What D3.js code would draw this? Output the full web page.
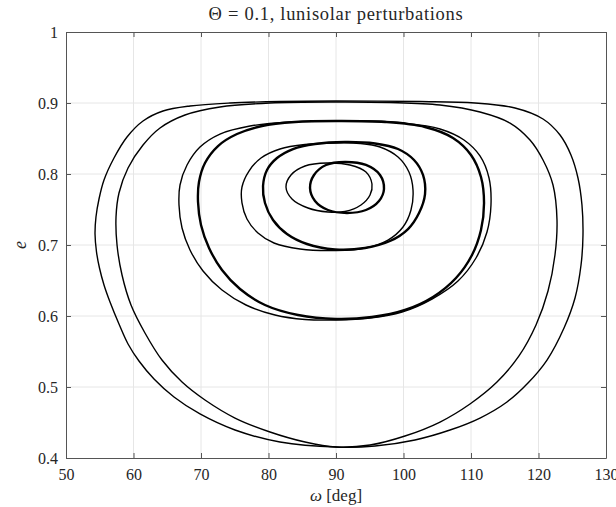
<!DOCTYPE html>
<html>
<head>
<meta charset="utf-8">
<style>
  body { margin: 0; background: #fff; }
  text { font-family: "Liberation Serif", "DejaVu Serif", serif; fill: #262626; }
</style>
</head>
<body>
<div id="chart"></div>
<script src="https://d3js.org/d3.v7.min.js"></script>
<script>
  // tick values
  const xTicks = [50, 60, 70, 80, 90, 100, 110, 120, 130];
  const yTicks = [0.4, 0.5, 0.6, 0.7, 0.8, 0.9, 1];

  // loops, [omega (deg), e]
  const loopA = [
    [90.00, 0.9028], [81.70, 0.9021], [74.30, 0.9000], [68.37, 0.8958], [64.37, 0.8887],
    [61.41, 0.8746], [59.04, 0.8521], [57.11, 0.8225], [55.63, 0.7915], [54.89, 0.7648],
    [54.44, 0.7394], [54.30, 0.7155], [54.52, 0.6901], [54.96, 0.6676], [55.63, 0.6437],
    [56.52, 0.6197], [57.85, 0.5887], [59.19, 0.5606], [60.81, 0.5366], [63.04, 0.5113],
    [66.00, 0.4859], [69.85, 0.4620], [75.04, 0.4394], [81.70, 0.4225], [90.00, 0.4155],
    [95.78, 0.4169], [101.70, 0.4254], [106.89, 0.4394], [111.33, 0.4563], [115.33, 0.4789],
    [118.44, 0.5056], [121.26, 0.5380], [123.78, 0.5831], [125.41, 0.6254], [126.30, 0.6718],
    [126.59, 0.7141], [126.44, 0.7563], [125.85, 0.7944], [124.81, 0.8268], [123.19, 0.8549],
    [120.67, 0.8775], [116.52, 0.8930], [110.59, 0.9000], [102.44, 0.9021]
  ];
  const loopB = [
    [90.00, 0.9014], [80.22, 0.9000], [72.81, 0.8944], [67.63, 0.8831], [63.93, 0.8648],
    [61.41, 0.8408], [59.19, 0.8085], [57.85, 0.7732], [57.41, 0.7394], [57.56, 0.7000],
    [58.30, 0.6577], [59.63, 0.6155], [61.70, 0.5761], [64.22, 0.5380], [67.19, 0.5070],
    [70.59, 0.4817], [75.04, 0.4563], [80.22, 0.4366], [85.41, 0.4225], [90.00, 0.4155],
    [95.04, 0.4183], [100.22, 0.4310], [105.41, 0.4507], [109.85, 0.4761], [113.85, 0.5070],
    [117.11, 0.5437], [119.63, 0.5873], [121.41, 0.6352], [122.44, 0.6859], [122.74, 0.7352],
    [122.15, 0.7845], [120.67, 0.8197], [118.74, 0.8479], [115.78, 0.8718], [111.33, 0.8873],
    [105.41, 0.8972], [98.00, 0.9007]
  ];
  const loopC = [
    [90.00, 0.8746], [83.19, 0.8732], [77.26, 0.8676], [72.81, 0.8563], [69.85, 0.8380],
    [67.93, 0.8127], [66.89, 0.7845], [66.74, 0.7563], [67.19, 0.7239], [68.37, 0.6930],
    [70.30, 0.6634], [73.11, 0.6366], [76.67, 0.6155], [80.96, 0.6014], [85.41, 0.5951],
    [90.00, 0.5944], [95.04, 0.5972], [99.78, 0.6056], [104.22, 0.6239], [108.07, 0.6493],
    [110.74, 0.6817], [112.37, 0.7183], [112.96, 0.7563], [112.67, 0.7944], [111.33, 0.8254],
    [108.96, 0.8479], [105.41, 0.8634], [100.22, 0.8718], [95.04, 0.8746]
  ];
  const loopD = [
    [90.00, 0.8746], [83.93, 0.8732], [79.04, 0.8676], [75.33, 0.8563], [72.52, 0.8394],
    [70.59, 0.8155], [69.70, 0.7887], [69.56, 0.7606], [70.00, 0.7282], [71.19, 0.6958],
    [73.11, 0.6648], [75.78, 0.6380], [79.48, 0.6155], [84.37, 0.6014], [90.00, 0.5958],
    [95.33, 0.5986], [100.22, 0.6085], [104.37, 0.6268], [107.78, 0.6535], [110.15, 0.6859],
    [111.48, 0.7211], [111.93, 0.7592], [111.48, 0.7958], [110.00, 0.8268], [107.33, 0.8507],
    [103.19, 0.8662], [97.26, 0.8732]
  ];
  const loopE = [
    [90.00, 0.8437], [85.41, 0.8415], [81.70, 0.8352], [78.89, 0.8225], [77.11, 0.8042],
    [76.07, 0.7817], [76.07, 0.7592], [76.81, 0.7366], [78.44, 0.7169], [80.81, 0.7028],
    [84.67, 0.6944], [90.00, 0.6923], [94.30, 0.6958], [97.70, 0.7070], [99.93, 0.7254],
    [101.11, 0.7493], [101.41, 0.7775], [100.81, 0.8028], [99.19, 0.8239], [96.52, 0.8380],
    [93.56, 0.8430]
  ];
  const loopF = [
    [91.33, 0.8451], [86.89, 0.8423], [83.63, 0.8352], [81.26, 0.8225], [79.78, 0.8056],
    [79.19, 0.7831], [79.48, 0.7592], [80.67, 0.7352], [82.74, 0.7155], [85.70, 0.7014],
    [89.85, 0.6937], [94.30, 0.6958], [98.00, 0.7056], [100.67, 0.7225], [102.30, 0.7451],
    [103.19, 0.7718], [102.89, 0.7986], [101.56, 0.8197], [99.19, 0.8352], [95.78, 0.8430]
  ];
  const loopG = [
    [95.33, 0.7859], [94.44, 0.8028], [92.07, 0.8127], [88.67, 0.8155], [85.41, 0.8113],
    [83.33, 0.7986], [82.59, 0.7817], [83.48, 0.7648], [85.85, 0.7521], [88.81, 0.7465],
    [91.33, 0.7472], [93.70, 0.7563], [95.04, 0.7704]
  ];
  const loopH = [
    [97.11, 0.7789], [96.52, 0.7986], [94.44, 0.8127], [91.33, 0.8169], [88.52, 0.8127],
    [86.74, 0.7986], [86.15, 0.7803], [86.89, 0.7620], [88.81, 0.7493], [91.63, 0.7451],
    [94.44, 0.7493], [96.37, 0.7620]
  ];

  const thinLoops = [loopA, loopB, loopC, loopE, loopG];
  const thickLoops = [loopD, loopF, loopH];

  const width = 616;
  const height = 507;
  const margin = { top: 32, right: 10, bottom: 49, left: 66 };

  const svg = d3.select('#chart')
    .append('svg')
    .attr('width', width)
    .attr('height', height);

  const x = d3.scaleLinear()
    .domain([50, 130])
    .range([margin.left, width - margin.right]);

  const y = d3.scaleLinear()
    .domain([0.4, 1])
    .range([height - margin.bottom, margin.top]);

  // grid
  svg.append('g')
    .selectAll('line')
    .data(xTicks.slice(1, -1))
    .enter()
    .append('line')
    .attr('x1', d => x(d)).attr('x2', d => x(d))
    .attr('y1', y(0.4)).attr('y2', y(1))
    .attr('stroke', '#e6e6e6');

  svg.append('g')
    .selectAll('line')
    .data(yTicks.slice(1, -1))
    .enter()
    .append('line')
    .attr('x1', x(50)).attr('x2', x(130))
    .attr('y1', d => y(d)).attr('y2', d => y(d))
    .attr('stroke', '#e6e6e6');

  // curves
  const line = d3.line()
    .x(d => x(d[0]))
    .y(d => y(d[1]))
    .curve(d3.curveCatmullRomClosed.alpha(0.5));

  const plot = svg.append('g');
  plot.selectAll('path.thin')
    .data(thinLoops)
    .enter()
    .append('path')
    .attr('class', 'thin')
    .attr('d', line)
    .attr('fill', 'none')
    .attr('stroke', '#000')
    .attr('stroke-width', 1.4);

  plot.selectAll('path.thick')
    .data(thickLoops)
    .enter()
    .append('path')
    .attr('class', 'thick')
    .attr('d', line)
    .attr('fill', 'none')
    .attr('stroke', '#000')
    .attr('stroke-width', 2.4);

  // axes, ticks pointing in on all sides
  const fmt = d3.format('~g');
  svg.append('g')
    .attr('transform', `translate(0, ${y(0.4)})`)
    .call(d3.axisBottom(x).tickValues(xTicks).tickSizeInner(-5).tickSizeOuter(0).tickPadding(11).tickFormat(fmt));
  svg.append('g')
    .attr('transform', `translate(0, ${y(1)})`)
    .call(d3.axisTop(x).tickValues(xTicks).tickSizeInner(-5).tickSizeOuter(0).tickFormat(''));
  svg.append('g')
    .attr('transform', `translate(${x(50)}, 0)`)
    .call(d3.axisLeft(y).tickValues(yTicks).tickSizeInner(-5).tickSizeOuter(0).tickPadding(8).tickFormat(fmt));
  svg.append('g')
    .attr('transform', `translate(${x(130)}, 0)`)
    .call(d3.axisRight(y).tickValues(yTicks).tickSizeInner(-5).tickSizeOuter(0).tickFormat(''));

  svg.selectAll('.domain, .tick line').attr('stroke', '#555');
  svg.selectAll('.tick text')
    .attr('font-size', 16)
    .attr('font-family', '"Liberation Serif", serif')
    .attr('fill', '#262626');

  // labels
  svg.append('text')
    .attr('x', x(90))
    .attr('y', 20)
    .attr('text-anchor', 'middle')
    .attr('font-size', 18.5)
    .attr('letter-spacing', 0.7)
    .text('Θ = 0.1, lunisolar perturbations');

  svg.append('text')
    .attr('x', x(90))
    .attr('y', 501)
    .attr('text-anchor', 'middle')
    .attr('font-size', 17)
    .html('<tspan font-style="italic">ω</tspan> [deg]');

  svg.append('text')
    .attr('transform', 'rotate(-90)')
    .attr('x', -y(0.7))
    .attr('y', 26)
    .attr('text-anchor', 'middle')
    .attr('font-size', 18)
    .attr('font-style', 'italic')
    .text('e');
</script>
</body>
</html>
